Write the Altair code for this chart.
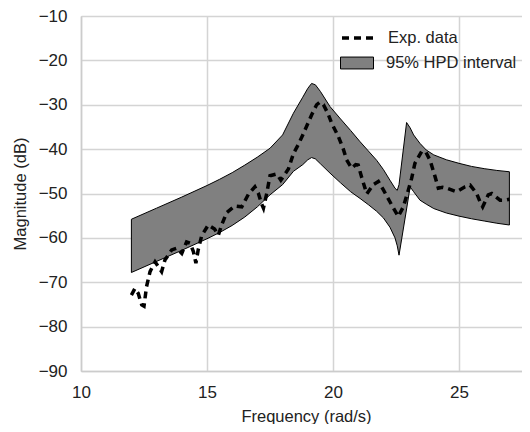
import altair as alt
import pandas as pd

# Experimental data (dashed line)
exp_freq = [12.0, 12.14, 12.27, 12.41, 12.5, 12.6, 12.74, 12.94, 13.2, 13.33,
            13.6, 13.8, 14.0, 14.19, 14.33, 14.46, 14.56, 14.65, 14.79, 15.05,
            15.3, 15.45, 15.58, 15.78, 16.11, 16.38, 16.64, 16.9, 17.04, 17.17,
            17.24, 17.37, 17.5, 17.77, 17.93, 18.23, 18.43, 18.62, 18.8, 19.02,
            19.15, 19.35, 19.48, 19.62, 19.8, 19.95, 20.2, 20.41, 20.54, 20.74,
            20.9, 21.0, 21.14, 21.34, 21.6, 21.8, 22.0, 22.33, 22.59, 22.79,
            22.99, 23.12, 23.25, 23.52, 23.68, 23.85, 24.05, 24.18, 24.35, 24.51,
            24.7, 24.9, 25.24, 25.44, 25.7, 25.83, 25.94, 26.16, 26.3, 26.63,
            26.83, 27.0]
exp_mag = [-72.9, -71.4, -72.5, -75.1, -75.4, -71.0, -67.6, -65.4, -67.6, -65.0,
           -62.7, -62.3, -63.5, -60.9, -61.2, -63.1, -65.7, -62.7, -59.5, -57.1,
           -58.0, -59.4, -57.1, -54.3, -52.8, -53.0, -50.2, -48.5, -50.0, -52.4,
           -53.3, -50.0, -46.0, -45.6, -47.0, -44.5, -41.0, -39.0, -36.8, -34.0,
           -32.3, -30.0, -29.4, -30.0, -32.0, -34.2, -37.0, -40.0, -42.4, -44.3,
           -43.5, -43.6, -46.4, -50.1, -48.0, -47.3, -49.2, -52.6, -55.2, -53.0,
           -49.2, -46.6, -43.2, -40.5, -40.6, -42.5, -46.2, -48.8, -48.6, -48.8,
           -49.2, -49.6, -48.5, -48.1, -50.0, -51.8, -53.0, -50.3, -50.0, -51.5,
           -51.5, -51.3]

# 95% HPD interval (band)
band_freq = [12.0, 13.0, 14.0, 15.0, 15.5, 16.0, 16.5, 17.0, 17.5, 18.0,
             18.43, 18.8, 19.0, 19.15, 19.3, 19.5, 19.88, 20.3, 20.7, 21.07,
             21.4, 21.73, 22.0, 22.26, 22.46, 22.55, 22.62, 22.92, 23.06, 23.2,
             23.45, 23.7, 24.0, 24.5, 25.0, 25.5, 26.0, 26.5, 27.0]
band_upper = [-55.8, -53.3, -50.8, -48.2, -46.8, -45.3, -43.6, -41.8, -39.8, -36.8,
              -31.9, -28.3, -26.3, -25.2, -25.5, -27.0, -30.4, -33.2, -35.8, -38.3,
              -40.4, -42.5, -44.6, -47.0, -48.8, -49.3, -48.0, -34.0, -35.2, -36.8,
              -38.7, -40.2, -41.3, -42.4, -43.2, -43.9, -44.4, -44.8, -45.1]
band_lower = [-67.8, -65.3, -62.8, -60.2, -58.8, -57.2, -55.3, -53.0, -50.3, -48.0,
              -45.0, -43.5, -42.4, -41.9, -42.2, -43.3, -45.4, -47.6, -49.6, -51.1,
              -52.5, -54.0, -55.5, -57.6, -60.0, -61.8, -63.9, -53.5, -48.5, -49.6,
              -51.5, -52.4, -53.4, -54.4, -55.1, -55.7, -56.2, -56.7, -57.1]

x_ticks = [10, 15, 20, 25]
y_ticks = [-90, -80, -70, -60, -50, -40, -30, -20, -10]

exp_df = pd.DataFrame({"freq": exp_freq, "mag": exp_mag})
exp_df["series"] = "Exp. data"
band_df = pd.DataFrame({"freq": band_freq, "upper": band_upper, "lower": band_lower})
band_df["band"] = "95% HPD interval"

FONT = "Liberation Sans"
TXT = "#222222"

x_scale = alt.Scale(domain=[10, 27.5], nice=False, zero=False)
y_scale = alt.Scale(domain=[-90, -10], nice=False, zero=False)

x_axis = alt.Axis(values=x_ticks, title="Frequency (rad/s)", ticks=False,
                  labelFlush=False, labelOverlap=False,
                  labelFontSize=17, titleFontSize=16.5, labelPadding=13,
                  titlePadding=8, titleX=225, labelFont=FONT, titleFont=FONT,
                  labelColor=TXT, titleColor=TXT, titleFontWeight="normal",
                  domainColor="#cccccc", domainWidth=1.5,
                  gridColor="#d4d4d4", gridWidth=1.5)
y_axis = alt.Axis(values=y_ticks, title="Magnitude (dB)", ticks=False,
                  labelFlush=False, labelOverlap=False,
                  labelFontSize=17, titleFontSize=16.5, labelPadding=14,
                  titlePadding=10, labelFont=FONT, titleFont=FONT,
                  labelColor=TXT, titleColor=TXT, titleFontWeight="normal",
                  domainColor="#cccccc", domainWidth=1.5,
                  gridColor="#d4d4d4", gridWidth=1.5)

band = alt.Chart(band_df).mark_area(
    stroke="black", strokeWidth=1, opacity=1, fillOpacity=1
).encode(
    x=alt.X("freq:Q", scale=x_scale, axis=x_axis),
    y=alt.Y("upper:Q", scale=y_scale, axis=y_axis),
    y2="lower:Q",
    fill=alt.Fill("band:N",
                  scale=alt.Scale(domain=["95% HPD interval"], range=["#808080"]),
                  legend=alt.Legend(title=None, orient="none", legendX=259, legendY=30,
                                    symbolType="M-1,-0.36H1V0.36H-1Z", symbolSize=1089,
                                    symbolStrokeColor="black", symbolStrokeWidth=1,
                                    symbolOpacity=1, labelFontSize=16.5, labelFont=FONT,
                                    labelColor=TXT, labelOffset=12, padding=0)),
)

line = alt.Chart(exp_df).mark_line(
    color="black", strokeWidth=3.5
).encode(
    x=alt.X("freq:Q", scale=x_scale),
    y=alt.Y("mag:Q", scale=y_scale),
    strokeDash=alt.StrokeDash("series:N",
                              scale=alt.Scale(domain=["Exp. data"], range=[[7, 5]]),
                              legend=alt.Legend(title=None, orient="none", legendX=259, legendY=4,
                                                symbolType="stroke", symbolSize=1024,
                                                symbolStrokeWidth=3.5, symbolStrokeColor="black",
                                                labelFontSize=16.5, labelFont=FONT,
                                                labelColor=TXT, labelOffset=12, padding=0)),
)

chart = alt.layer(band, line).properties(
    width=441, height=355,
    padding={"left": 73, "top": 8, "right": 0, "bottom": 53},
    autosize=alt.AutoSizeParams(type="none"),
).configure_view(stroke=None).configure(background="white")

chart.save("out.html", embed_options={"renderer": "svg", "actions": False})
